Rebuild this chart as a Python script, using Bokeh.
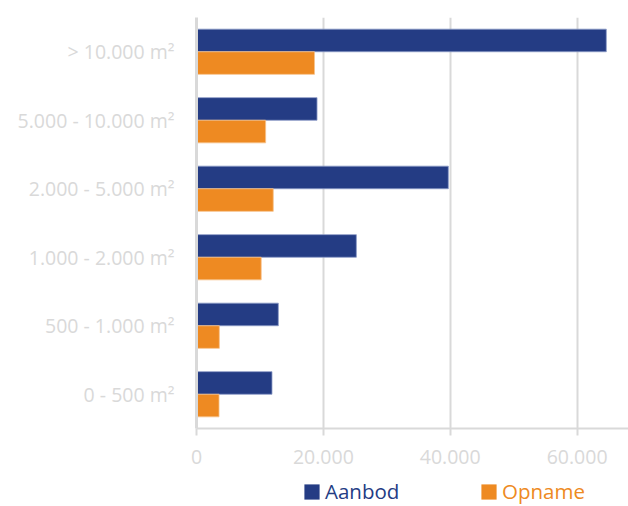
from bokeh.plotting import figure
from bokeh.models import ColumnDataSource, FactorRange, Range1d, Legend, LegendItem, FixedTicker
from bokeh.transform import dodge
from bokeh.layouts import column
from bokeh.embed import file_html
from bokeh.resources import INLINE

categories = ["0 - 500 m²", "500 - 1.000 m²", "1.000 - 2.000 m²",
              "2.000 - 5.000 m²", "5.000 - 10.000 m²", "> 10.000 m²"]
aanbod = [11900, 12900, 25200, 39700, 19000, 64600]
opname = [3550, 3600, 10200, 12100, 10900, 18600]
x_ticks = [0, 20000, 40000, 60000]
x_tick_labels = ["0", "20.000", "40.000", "60.000"]
series = ["Aanbod", "Opname"]

NAVY = "#243C84"
ORANGE = "#EE8A22"
GRID = "#d9d9d9"
FONT = "Open Sans"

src = ColumnDataSource(dict(cat=categories, aanbod=aanbod, opname=opname))

p = figure(width=628, height=476, output_backend="svg", toolbar_location=None,
           y_range=FactorRange(*categories), x_range=Range1d(0, 68100),
           min_border_left=196, min_border_right=0, min_border_top=17, min_border_bottom=48)
p.outline_line_color = None

p.hbar(y=dodge("cat", 0.165, range=p.y_range), right="aanbod", left=0, height=0.33,
       source=src, fill_color=NAVY, line_color="#8c9ac6", line_width=0.8)
p.hbar(y=dodge("cat", -0.165, range=p.y_range), right="opname", left=0, height=0.33,
       source=src, fill_color=ORANGE, line_color="#f6c28c", line_width=0.8)

# x axis
p.xaxis.ticker = FixedTicker(ticks=x_ticks)
p.xaxis.major_label_overrides = dict(zip(x_ticks, x_tick_labels))
p.xaxis.axis_line_color = GRID
p.xaxis.axis_line_width = 2
p.xaxis.major_tick_line_color = GRID
p.xaxis.major_tick_line_width = 2
p.xaxis.major_tick_out = 7
p.xaxis.major_tick_in = 0
p.xaxis.minor_tick_line_color = None
p.xaxis.major_label_text_color = GRID
p.xaxis.major_label_text_font = FONT
p.xaxis.major_label_text_font_size = "19.5px"
p.xaxis.major_label_standoff = 14

# y axis
p.yaxis.axis_line_color = GRID
p.yaxis.axis_line_width = 3
p.yaxis.major_tick_line_color = None
p.yaxis.minor_tick_line_color = None
p.yaxis.major_label_text_color = GRID
p.yaxis.major_label_text_font = FONT
p.yaxis.major_label_text_font_size = "19.5px"
p.yaxis.major_label_standoff = 16

p.xgrid.grid_line_color = GRID
p.xgrid.grid_line_width = 2
p.ygrid.grid_line_color = None

# legend strip below the chart (its frame is aligned with the chart's frame)
lf = figure(width=628, height=30, output_backend="svg", toolbar_location=None,
            x_range=Range1d(0, 1), y_range=Range1d(0, 1),
            x_axis_location=None, y_axis_location=None,
            min_border_left=196, min_border_right=0, min_border_top=0, min_border_bottom=0)
lf.outline_line_color = None
lf.grid.grid_line_color = None
# off-screen placeholder renderers, only used to draw the legend swatches
la = lf.hbar(y=[-5], left=[-6], right=[-5], height=0.5, fill_color=NAVY, line_color=None)
lo = lf.hbar(y=[-5], left=[-6], right=[-5], height=0.5, fill_color=ORANGE, line_color=None)

def make_legend(label, renderer, color, x):
    lg = Legend(items=[LegendItem(label=label, renderers=[renderer])],
                location=(x, 1), orientation="horizontal",
                label_text_color=color, label_text_font=FONT,
                label_text_font_size="20.5px", glyph_width=19, glyph_height=19,
                label_standoff=4, padding=0, margin=0, spacing=0,
                border_line_color=None, background_fill_alpha=0)
    lf.add_layout(lg, "center")

make_legend(series[0], la, NAVY, 106)
make_legend(series[1], lo, ORANGE, 283)

layout = column(p, lf, spacing=0)
open("out.html", "w").write(file_html(layout, INLINE))
